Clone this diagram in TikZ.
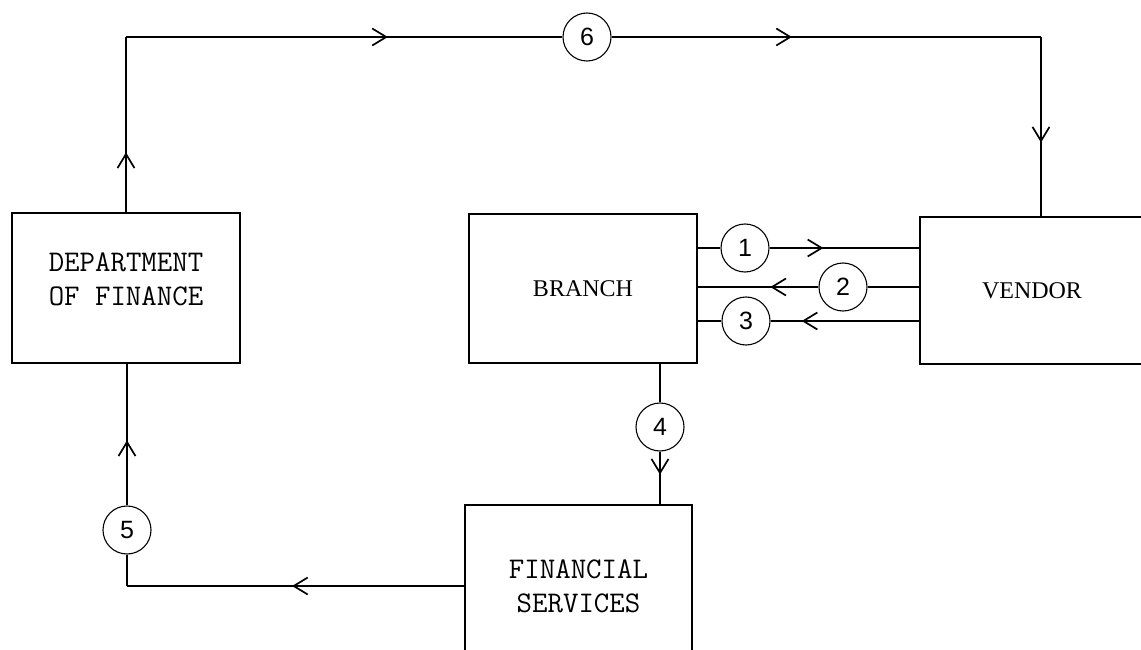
\documentclass[tikz,border=0pt]{standalone}
\usepackage{fontspec}
\newfontfamily\branchfont{Liberation Serif}
\newfontfamily\numfont{Liberation Sans}
\usetikzlibrary{arrows.meta,decorations.markings}

\begin{document}
\begin{tikzpicture}[x=1pt,y=-1pt,line width=1.7pt,
  box/.style={draw,line width=2.2pt,inner sep=0pt},
  num/.style={draw,circle,line width=1.1pt,minimum size=48pt,inner sep=0pt,font=\numfont\fontsize{25}{25}\selectfont},
  tt/.style={font=\ttfamily\fontsize{30}{34}\selectfont,align=center},
  rm/.style={font=\branchfont\fontsize{24}{28}\selectfont},
  arr/.style={postaction={decorate},decoration={markings,mark=at position #1 with {\arrow{Straight Barb[length=14pt,width=17pt]}}}}]
\clip (0,0) rectangle (1141,650);
% the four offices
\node[box,minimum width=228pt,minimum height=150pt,label={[tt,yshift=9pt]center:DEPARTMENT\\OF FINANCE}] (dof) at (126,288) {};
\node[box,rm,minimum width=228pt,minimum height=149pt] (br) at (583,288.5) {BRANCH};
\node[box,rm,minimum width=224pt,minimum height=147pt] (ven) at (1032,290.5) {VENDOR};
\node[box,tt,minimum width=227pt,minimum height=162pt] (fs) at (578.5,586) {FINANCIAL\\SERVICES};
% numbered steps
\node[num] (c1) at (745,248) {1};
\node[num] (c2) at (843,287) {2};
\node[num] (c3) at (746,321) {3};
\node[num] (c4) at (660,427) {4};
\node[num] (c5) at (127,530) {5};
\node[num] (c6) at (587,37) {6};
\coordinate (tl) at (126,37);
\coordinate (tr) at (1041,37);
\coordinate (bl) at (127,586);
% flows
\draw[arr=0.34] (dof.north) -- (tl);
\draw[arr=0.6] (tl) -- (c6);
\draw[arr=0.42] (c6) -- (tr);
\draw[arr=0.59] (tr) -- (tr |- ven.north);
\draw (br.east |- c1) -- (c1);
\draw[arr=0.36] (c1) -- (ven.west |- c1);
\draw (ven.west |- c2) -- (c2);
\draw[arr=0.4] (c2) -- (br.east |- c2);
\draw[arr=0.79] (ven.west |- c3) -- (c3);
\draw (c3) -- (br.east |- c3);
\draw (c4 |- br.south) -- (c4);
\draw[arr=0.44] (c4) -- (c4 |- fs.north);
\draw[arr=0.51] (fs.west |- bl) -- (bl);
\draw (bl) -- (c5);
\draw[arr=0.46] (c5) -- (c5 |- dof.south);
\end{tikzpicture}
\end{document}
